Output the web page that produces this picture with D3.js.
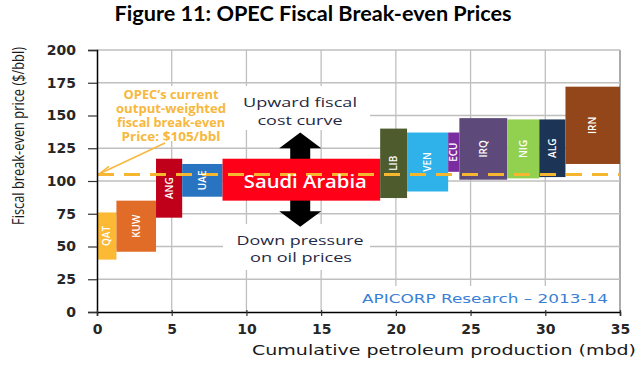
<!DOCTYPE html>
<html>
<head>
<meta charset="utf-8">
<script src="https://cdn.jsdelivr.net/npm/d3@7"></script>
<style>
  body { margin: 0; background: #fff; }
  svg { display: block; }
</style>
</head>
<body>
<div id="chart"></div>
<script>
// data
const countries = ["QAT", "KUW", "ANG", "UAE", "Saudi Arabia", "LIB", "VEN", "ECU", "IRQ", "NIG", "ALG", "IRN"];
const production = [1.3, 2.65, 1.75, 2.7, 10.55, 1.8, 2.75, 0.75, 3.2, 2.15, 1.75, 3.65]; // mbd
const lowPrice = [40, 46, 72, 88, 85, 87, 92, 107, 101, 102, 103, 113];
const highPrice = [76, 85, 117, 113, 117, 140, 137, 137, 148, 147, 147, 172];
const barColors = ["#fbb934", "#e06c27", "#c0001b", "#2874c0", "#ff0019", "#4e5b2c",
                   "#2fb1ea", "#7a2da0", "#5e4a7a", "#92d050", "#1c3557", "#93461a"];
const opecAverage = 105;
const xTicks = [0, 5, 10, 15, 20, 25, 30, 35];
const yTicks = [0, 25, 50, 75, 100, 125, 150, 175, 200];
// double arrow (x in mbd, tips/bases in $/bbl)
const arrowX = 13.6;
const arrowUp = [137, 125];
const arrowDown = [77, 65];

const width = 640, height = 365;

const svg = d3.select("#chart").append("svg")
    .attr("width", width)
    .attr("height", height);

svg.append("rect").attr("width", width).attr("height", height).attr("fill", "#fff");

const x = d3.scaleLinear().domain([0, 35]).range([97, 620]);
const y = d3.scaleLinear().domain([0, 200]).range([312, 50]);

const ends = d3.cumsum(production);
const bars = countries.map((c, i) => ({
  name: c,
  x0: ends[i] - production[i],
  x1: ends[i],
  lo: lowPrice[i],
  hi: highPrice[i],
  color: barColors[i]
}));

// title
svg.append("text")
    .attr("x", 313).attr("y", 21)
    .attr("text-anchor", "middle")
    .attr("textLength", 397).attr("lengthAdjust", "spacingAndGlyphs")
    .style("font-family", "Lato, 'Open Sans', sans-serif")
    .style("font-weight", "bold")
    .style("font-size", "20px")
    .style("fill", "#000")
    .text("Figure 11: OPEC Fiscal Break-even Prices");

// grid
const grid = svg.append("g");
grid.selectAll(".gx").data(xTicks.filter(d => d > 0)).enter().append("line")
    .attr("x1", d => x(d)).attr("x2", d => x(d))
    .attr("y1", y(200)).attr("y2", y(0))
    .attr("stroke", d => d === 35 ? "#808080" : "#bfbfbf")
    .attr("stroke-width", 1.3);
grid.selectAll(".gy").data(yTicks.filter(d => d > 0)).enter().append("line")
    .attr("x1", x(0)).attr("x2", x(35))
    .attr("y1", d => y(d)).attr("y2", d => y(d))
    .attr("stroke", "#bfbfbf")
    .attr("stroke-width", 1.3);

// white boxes behind annotations
const boxes = [[98, 86, 138, 55], [236, 86, 134, 44], [223, 224, 147, 46], [340, 286, 276, 25]];
svg.selectAll(".bg").data(boxes).enter().append("rect")
    .attr("x", d => d[0]).attr("y", d => d[1])
    .attr("width", d => d[2]).attr("height", d => d[3])
    .attr("fill", "#fff");

// double arrow behind Saudi bar
const ax = x(arrowX), sw = 10, hw = 21;
const saudiMid = y((bars[4].lo + bars[4].hi) / 2);
svg.append("path")
    .attr("d", `M${ax},${y(arrowUp[0])} L${ax + hw},${y(arrowUp[1])} L${ax + sw},${y(arrowUp[1])}
                L${ax + sw},${saudiMid} L${ax - sw},${saudiMid} L${ax - sw},${y(arrowUp[1])}
                L${ax - hw},${y(arrowUp[1])} Z`)
    .attr("fill", "#000");
svg.append("path")
    .attr("d", `M${ax},${y(arrowDown[1])} L${ax + hw},${y(arrowDown[0])} L${ax + sw},${y(arrowDown[0])}
                L${ax + sw},${saudiMid} L${ax - sw},${saudiMid} L${ax - sw},${y(arrowDown[0])}
                L${ax - hw},${y(arrowDown[0])} Z`)
    .attr("fill", "#000");

// bars
svg.selectAll(".bar").data(bars).enter().append("rect")
    .attr("x", d => x(d.x0))
    .attr("y", d => y(d.hi))
    .attr("width", d => x(d.x1) - x(d.x0))
    .attr("height", d => y(d.lo) - y(d.hi))
    .attr("fill", d => d.color);

// OPEC average dashed line
svg.append("line")
    .attr("x1", x(0) + 1).attr("x2", x(35))
    .attr("y1", y(opecAverage)).attr("y2", y(opecAverage))
    .attr("stroke", "#f7b630")
    .attr("stroke-width", 3)
    .attr("stroke-dasharray", "16,10");

// bar labels
svg.selectAll(".lbl").data(bars.filter(d => d.name !== "Saudi Arabia")).enter().append("text")
    .attr("transform", d => `translate(${(x(d.x0) + x(d.x1)) / 2 + 3.5},${y((d.lo + d.hi) / 2)}) rotate(-90)`)
    .attr("text-anchor", "middle")
    .style("font-family", "'Open Sans', sans-serif")
    .style("font-size", "10px")
    .style("font-weight", "600")
    .style("fill", "#fff")
    .text(d => d.name);

const sa = bars[4];
svg.append("text")
    .attr("x", (x(sa.x0) + x(sa.x1)) / 2 + 4)
    .attr("y", y((sa.lo + sa.hi) / 2) + 8)
    .attr("text-anchor", "middle")
    .attr("textLength", 123).attr("lengthAdjust", "spacingAndGlyphs")
    .style("font-family", "'Open Sans', sans-serif")
    .style("font-size", "18px")
    .style("font-weight", "600")
    .style("fill", "#fff")
    .text(sa.name);

// annotations
const orange = svg.append("g")
    .attr("text-anchor", "middle")
    .style("font-family", "'Open Sans', sans-serif")
    .style("font-weight", "bold")
    .style("font-size", "11.5px")
    .style("fill", "#f7b83d");
const orangeLines = [["OPEC\u2019s current", 99, 95], ["output-weighted", 113, 110],
                     ["fiscal break-even", 127, 108], ["Price: $105/bbl", 141, 99]];
orange.selectAll("text").data(orangeLines).enter().append("text")
    .attr("x", 171).attr("y", d => d[1])
    .attr("textLength", d => d[2]).attr("lengthAdjust", "spacingAndGlyphs")
    .text(d => d[0]);

svg.append("line")
    .attr("x1", 165).attr("y1", 143)
    .attr("x2", x(0) + 2).attr("y2", y(opecAverage) - 0.5)
    .attr("stroke", "#f7b83d").attr("stroke-width", 1.5);
svg.append("path")
    .attr("d", `M${x(0) + 12},${y(opecAverage) - 8} L${x(0) + 2},${y(opecAverage) - 0.5} L${x(0) + 13},${y(opecAverage) + 1}`)
    .attr("fill", "none").attr("stroke", "#f7b83d").attr("stroke-width", 1.5);

const navy = svg.append("g")
    .attr("text-anchor", "middle")
    .style("font-family", "'Open Sans', sans-serif")
    .style("font-size", "13px")
    .style("fill", "#1f2a44");
const navyLines = [["Upward fiscal", 300, 107, 114], ["cost curve", 300, 125, 85],
                   ["Down pressure", 300, 245, 127], ["on oil prices", 301, 262, 102]];
navy.selectAll("text").data(navyLines).enter().append("text")
    .attr("x", d => d[1]).attr("y", d => d[2])
    .attr("textLength", d => d[3]).attr("lengthAdjust", "spacingAndGlyphs")
    .text(d => d[0]);

svg.append("text")
    .attr("x", 362).attr("y", 303)
    .attr("textLength", 246).attr("lengthAdjust", "spacingAndGlyphs")
    .style("font-family", "'DejaVu Sans', sans-serif")
    .style("font-size", "13px")
    .style("fill", "#3a7fd5")
    .text("APICORP Research \u2013 2013-14");

// axes
const yAxis = svg.append("g")
    .attr("transform", `translate(${x(0)},0)`)
    .call(d3.axisLeft(y).tickValues(yTicks).tickSize(9).tickPadding(12));
const xAxis = svg.append("g")
    .attr("transform", `translate(0,${y(0)})`)
    .call(d3.axisBottom(x).tickValues(xTicks).tickSize(4).tickPadding(8));

[xAxis, yAxis].forEach(g => {
  g.select(".domain").attr("stroke", "#000").attr("stroke-width", 1.5);
  g.selectAll(".tick line").attr("stroke", "#333").attr("stroke-width", 1.2);
  g.selectAll(".tick text")
      .style("font-family", "'DejaVu Sans', sans-serif")
      .style("font-size", "14px")
      .style("font-weight", "bold")
      .style("fill", "#262626");
});
xAxis.selectAll(".tick line").attr("y1", -2);

svg.append("text")
    .attr("x", 252).attr("y", 355)
    .attr("textLength", 384).attr("lengthAdjust", "spacingAndGlyphs")
    .style("font-family", "'DejaVu Sans', sans-serif")
    .style("font-size", "14px")
    .style("fill", "#1a1a1a")
    .text("Cumulative petroleum production (mbd)");

svg.append("text")
    .attr("transform", "translate(24,136) rotate(-90)")
    .attr("text-anchor", "middle")
    .attr("textLength", 178).attr("lengthAdjust", "spacingAndGlyphs")
    .style("font-family", "'Open Sans', sans-serif")
    .style("font-size", "16px")
    .style("fill", "#1a1a1a")
    .text("Fiscal break-even price ($/bbl)");
</script>
</body>
</html>
